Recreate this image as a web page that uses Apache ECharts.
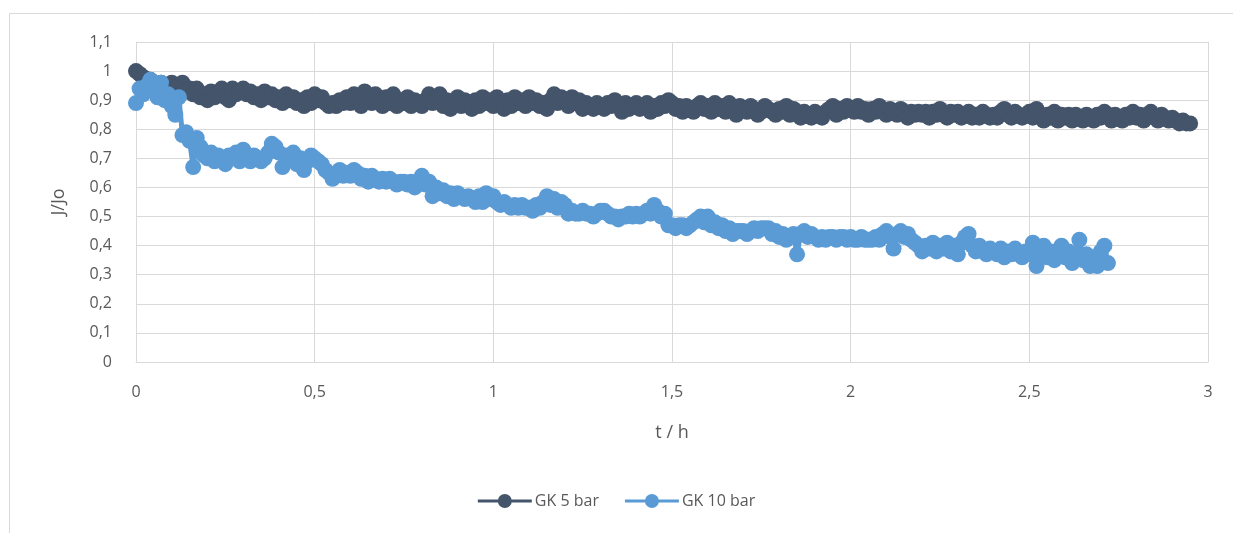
<!DOCTYPE html>
<html><head><meta charset="utf-8">
<script src="https://cdn.jsdelivr.net/npm/echarts@6/dist/echarts.min.js"></script>
<style>html,body{margin:0;padding:0;background:#fff}#c{width:1233px;height:533px}</style>
</head><body><div id="c"></div>
<script>
const seriesNames = ["GK 5 bar", "GK 10 bar"];
const xTicks = [0, 0.5, 1, 1.5, 2, 2.5, 3];
const yTicks = [0, 0.1, 0.2, 0.3, 0.4, 0.5, 0.6, 0.7, 0.8, 0.9, 1, 1.1];

// sample times (h)
const tSamples = [
0.00,0.01,0.02,0.03,0.04,0.05,0.06,0.07,0.08,0.09,
0.10,0.11,0.12,0.13,0.14,0.15,0.16,0.17,0.18,0.19,
0.20,0.21,0.22,0.23,0.24,0.25,0.26,0.27,0.28,0.29,
0.30,0.31,0.32,0.33,0.34,0.35,0.36,0.37,0.38,0.39,
0.40,0.41,0.42,0.43,0.44,0.45,0.46,0.47,0.48,0.49,
0.50,0.51,0.52,0.53,0.54,0.55,0.56,0.57,0.58,0.59,
0.60,0.61,0.62,0.63,0.64,0.65,0.66,0.67,0.68,0.69,
0.70,0.71,0.72,0.73,0.74,0.75,0.76,0.77,0.78,0.79,
0.80,0.81,0.82,0.83,0.84,0.85,0.86,0.87,0.88,0.89,
0.90,0.91,0.92,0.93,0.94,0.95,0.96,0.97,0.98,0.99,
1.00,1.01,1.02,1.03,1.04,1.05,1.06,1.07,1.08,1.09,
1.10,1.11,1.12,1.13,1.14,1.15,1.16,1.17,1.18,1.19,
1.20,1.21,1.22,1.23,1.24,1.25,1.26,1.27,1.28,1.29,
1.30,1.31,1.32,1.33,1.34,1.35,1.36,1.37,1.38,1.39,
1.40,1.41,1.42,1.43,1.44,1.45,1.46,1.47,1.48,1.49,
1.50,1.51,1.52,1.53,1.54,1.55,1.56,1.57,1.58,1.59,
1.60,1.61,1.62,1.63,1.64,1.65,1.66,1.67,1.68,1.69,
1.70,1.71,1.72,1.73,1.74,1.75,1.76,1.77,1.78,1.79,
1.80,1.81,1.82,1.83,1.84,1.85,1.86,1.87,1.88,1.89,
1.90,1.91,1.92,1.93,1.94,1.95,1.96,1.97,1.98,1.99,
2.00,2.01,2.02,2.03,2.04,2.05,2.06,2.07,2.08,2.09,
2.10,2.11,2.12,2.13,2.14,2.15,2.16,2.17,2.18,2.19,
2.20,2.21,2.22,2.23,2.24,2.25,2.26,2.27,2.28,2.29,
2.30,2.31,2.32,2.33,2.34,2.35,2.36,2.37,2.38,2.39,
2.40,2.41,2.42,2.43,2.44,2.45,2.46,2.47,2.48,2.49,
2.50,2.51,2.52,2.53,2.54,2.55,2.56,2.57,2.58,2.59,
2.60,2.61,2.62,2.63,2.64,2.65,2.66,2.67,2.68,2.69,
2.70,2.71,2.72,2.73,2.74,2.75,2.76,2.77,2.78,2.79,
2.80,2.81,2.82,2.83,2.84,2.85,2.86,2.87,2.88,2.89,
2.90,2.91,2.92,2.93,2.94,2.95];

// GK 5 bar, J/Jo (one value per sample time)
const gk5 = [
1.00,0.99,0.98,0.96,0.97,0.95,0.94,0.96,0.93,0.95,
0.96,0.94,0.95,0.96,0.93,0.94,0.92,0.94,0.91,0.92,
0.90,0.93,0.91,0.92,0.94,0.91,0.90,0.94,0.92,0.93,
0.94,0.92,0.93,0.91,0.92,0.90,0.93,0.91,0.92,0.90,
0.91,0.89,0.92,0.90,0.91,0.89,0.90,0.88,0.91,0.89,
0.92,0.90,0.91,0.89,0.88,0.89,0.88,0.90,0.89,0.91,
0.89,0.92,0.90,0.88,0.93,0.91,0.89,0.92,0.90,0.88,
0.91,0.89,0.92,0.88,0.90,0.89,0.91,0.88,0.90,0.89,
0.88,0.90,0.92,0.89,0.91,0.92,0.88,0.90,0.87,0.89,
0.91,0.88,0.90,0.89,0.87,0.90,0.88,0.91,0.89,0.90,
0.88,0.91,0.89,0.87,0.90,0.88,0.91,0.89,0.90,0.88,
0.91,0.89,0.90,0.88,0.89,0.87,0.90,0.92,0.89,0.91,
0.90,0.88,0.91,0.89,0.90,0.87,0.89,0.88,0.87,0.89,
0.88,0.87,0.89,0.88,0.90,0.88,0.86,0.89,0.87,0.88,
0.89,0.87,0.88,0.89,0.86,0.88,0.87,0.89,0.88,0.90,
0.89,0.87,0.88,0.86,0.88,0.87,0.86,0.88,0.89,0.87,
0.88,0.86,0.89,0.87,0.88,0.86,0.89,0.87,0.85,0.88,
0.87,0.86,0.88,0.87,0.85,0.86,0.88,0.87,0.86,0.85,
0.87,0.86,0.88,0.85,0.87,0.86,0.84,0.86,0.85,0.84,
0.86,0.85,0.84,0.86,0.87,0.88,0.85,0.87,0.86,0.88,
0.87,0.86,0.88,0.86,0.87,0.85,0.87,0.86,0.88,0.86,
0.85,0.87,0.86,0.85,0.87,0.86,0.84,0.86,0.85,0.86,
0.85,0.86,0.84,0.86,0.85,0.87,0.85,0.84,0.86,0.85,
0.86,0.84,0.85,0.86,0.84,0.85,0.84,0.86,0.85,0.84,
0.85,0.84,0.86,0.87,0.85,0.84,0.86,0.85,0.84,0.85,
0.86,0.84,0.87,0.85,0.83,0.85,0.84,0.86,0.83,0.85,
0.84,0.85,0.83,0.85,0.84,0.83,0.85,0.84,0.83,0.85,
0.84,0.86,0.85,0.83,0.85,0.84,0.83,0.85,0.84,0.86,
0.84,0.85,0.83,0.85,0.86,0.84,0.83,0.85,0.84,0.83,
0.84,0.83,0.82,0.83,0.82,0.82];

// GK 10 bar, J/Jo (one value per sample time, ends at 2.72 h)
const gk10 = [
0.89,0.94,0.92,0.95,0.97,0.93,0.91,0.96,0.90,0.92,
0.88,0.85,0.91,0.78,0.79,0.76,0.67,0.77,0.74,0.71,
0.70,0.72,0.69,0.71,0.70,0.68,0.71,0.70,0.72,0.69,
0.73,0.70,0.69,0.71,0.70,0.69,0.70,0.72,0.75,0.74,
0.72,0.67,0.71,0.70,0.72,0.68,0.70,0.66,0.69,0.71,
0.70,0.69,0.68,0.66,0.65,0.63,0.64,0.66,0.64,0.65,
0.64,0.66,0.65,0.63,0.64,0.62,0.64,0.63,0.62,0.63,
0.62,0.63,0.62,0.61,0.62,0.62,0.61,0.62,0.60,0.62,
0.64,0.61,0.62,0.57,0.60,0.58,0.59,0.57,0.58,0.56,
0.58,0.57,0.56,0.57,0.56,0.55,0.57,0.55,0.58,0.56,
0.57,0.55,0.54,0.55,0.54,0.53,0.54,0.53,0.54,0.53,
0.53,0.52,0.54,0.53,0.55,0.57,0.54,0.56,0.53,0.55,
0.54,0.51,0.52,0.51,0.51,0.52,0.51,0.51,0.50,0.51,
0.52,0.52,0.51,0.50,0.50,0.49,0.50,0.50,0.51,0.50,
0.51,0.50,0.51,0.52,0.51,0.54,0.52,0.50,0.51,0.47,
0.47,0.46,0.47,0.47,0.46,0.47,0.48,0.49,0.50,0.48,
0.50,0.47,0.48,0.46,0.47,0.45,0.46,0.44,0.45,0.45,
0.45,0.44,0.45,0.46,0.45,0.46,0.46,0.46,0.44,0.45,
0.43,0.44,0.42,0.43,0.44,0.37,0.44,0.45,0.43,0.44,
0.43,0.42,0.43,0.42,0.43,0.43,0.42,0.43,0.43,0.42,
0.43,0.42,0.42,0.43,0.42,0.42,0.42,0.43,0.42,0.44,
0.45,0.43,0.39,0.44,0.45,0.43,0.44,0.42,0.41,0.40,
0.38,0.40,0.39,0.41,0.38,0.40,0.39,0.41,0.38,0.40,
0.37,0.41,0.43,0.44,0.40,0.38,0.40,0.38,0.37,0.39,
0.38,0.37,0.39,0.36,0.38,0.37,0.39,0.37,0.36,0.38,
0.37,0.41,0.33,0.39,0.40,0.36,0.38,0.35,0.37,0.40,
0.36,0.38,0.34,0.37,0.42,0.35,0.37,0.33,0.36,0.33,
0.38,0.40,0.34];

const pairs = (ys) => ys.map((y, i) => [tSamples[i], y]);
const fmt = v => String(Math.round(v * 10) / 10).replace('.', ',');
const FONT = "'Open Sans', 'Liberation Sans', sans-serif";
const GRAY = '#595959';
const C5 = '#44546A', C10 = '#5B9BD5';
const ICON = 'path://M0,5.5H54V8.5H0Z M27,0A7,7 0 1,1 27,14A7,7 0 1,1 27,0Z';
const MS = 16;

const chart = echarts.init(document.getElementById('c'), null, {renderer: 'canvas'});
chart.setOption({
  animation: false,
  backgroundColor: '#ffffff',
  graphic: [{type: 'rect', shape: {x: 9.5, y: 13.5, width: 1240, height: 540}, style: {fill: 'none', stroke: '#d9d9d9', lineWidth: 1}, silent: true}],
  grid: {left: 136, right: 25, top: 42, bottom: 171, containLabel: false},
  legend: {
    bottom: 19, left: 'center', itemGap: 26, itemWidth: 54, itemHeight: 14,
    textStyle: {color: GRAY, fontSize: 16, fontFamily: FONT, padding: [0, 0, 0, -2]},
    data: [
      {name: seriesNames[0], icon: ICON, itemStyle: {color: C5}},
      {name: seriesNames[1], icon: ICON, itemStyle: {color: C10}}
    ]
  },
  xAxis: {
    type: 'value', min: xTicks[0], max: xTicks[xTicks.length - 1], interval: 0.5,
    name: 't / h', nameLocation: 'middle', nameGap: 62,
    nameTextStyle: {color: GRAY, fontSize: 18, fontFamily: FONT},
    axisLine: {show: true, lineStyle: {color: '#d9d9d9', width: 1}},
    axisTick: {show: false},
    axisLabel: {color: GRAY, fontSize: 16, fontFamily: FONT, margin: 22, formatter: fmt},
    splitLine: {show: true, lineStyle: {color: '#d9d9d9', width: 1}}
  },
  yAxis: {
    type: 'value', min: yTicks[0], max: yTicks[yTicks.length - 1], interval: 0.1,
    name: 'J/Jo', nameLocation: 'middle', nameGap: 68,
    nameTextStyle: {color: GRAY, fontSize: 18, fontFamily: FONT},
    axisLine: {show: true, lineStyle: {color: '#d9d9d9', width: 1}},
    axisTick: {show: false},
    axisLabel: {color: GRAY, fontSize: 16, fontFamily: FONT, margin: 24, formatter: fmt},
    splitLine: {show: true, lineStyle: {color: '#d9d9d9', width: 1}}
  },
  series: [
    {name: seriesNames[0], type: 'line', data: pairs(gk5), showSymbol: false,
     itemStyle: {color: C5}, lineStyle: {color: C5, width: 5}, z: 2},
    {name: seriesNames[0], type: 'scatter', data: pairs(gk5), symbol: 'circle', symbolSize: MS,
     itemStyle: {color: C5, opacity: 1}, z: 3},
    {name: seriesNames[1], type: 'line', data: pairs(gk10), showSymbol: false,
     itemStyle: {color: C10}, lineStyle: {color: C10, width: 5}, z: 4},
    {name: seriesNames[1], type: 'scatter', data: pairs(gk10), symbol: 'circle', symbolSize: MS,
     itemStyle: {color: C10, opacity: 1}, z: 5}
  ]
});
</script></body></html>
